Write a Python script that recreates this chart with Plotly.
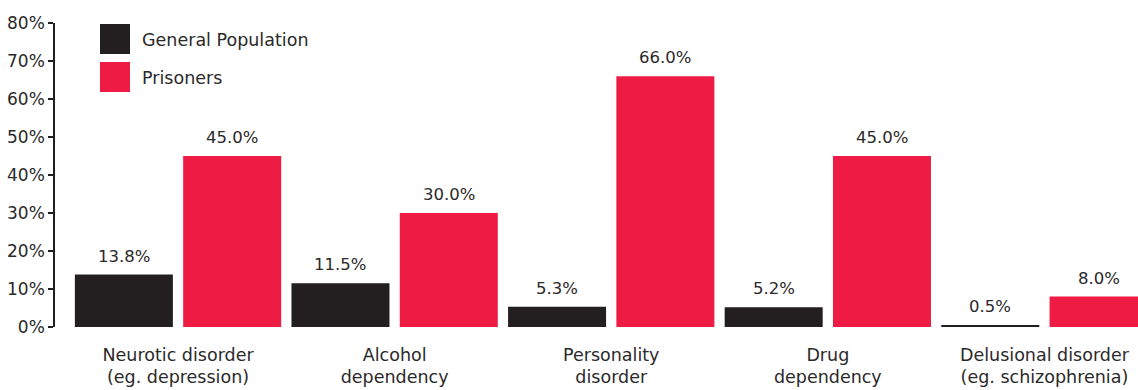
import plotly.graph_objects as go

categories = ["Neurotic disorder<br>(eg. depression)", "Alcohol<br>dependency", "Personality<br>disorder",
              "Drug<br>dependency", "Delusional disorder<br>(eg. schizophrenia)"]
general_population = [13.8, 11.5, 5.3, 5.2, 0.5]
prisoners = [45.0, 30.0, 66.0, 45.0, 8.0]
series_names = ["General Population", "Prisoners"]
y_tick_values = [0, 10, 20, 30, 40, 50, 60, 70, 80]
y_tick_labels = [f"{v}%" for v in y_tick_values]

BLACK = "#231f20"
RED = "#ee1b45"
TEXT = "#2b2929"
FONT = "DejaVu Sans"

fig = go.Figure()
fig.add_trace(go.Bar(x=categories, y=general_population, name=series_names[0],
                     marker=dict(color=BLACK, line=dict(width=0)), showlegend=False))
fig.add_trace(go.Bar(x=categories, y=prisoners, name=series_names[1],
                     marker=dict(color=RED, line=dict(width=0)), showlegend=False))

annotations = []
for i in range(len(categories)):
    for off, vals in ((-0.25, general_population), (0.25, prisoners)):
        annotations.append(dict(x=i + off, y=vals[i], xref="x", yref="y", text=f"{vals[i]:.1f}%",
                                showarrow=False, yanchor="bottom", yshift=7,
                                font=dict(family=FONT, size=16.5, color=TEXT)))

# legend drawn as large swatches
legend_items = [(series_names[0], BLACK, 24), (series_names[1], RED, 62)]
shapes = []
for name, color, top in legend_items:
    shapes.append(dict(type="rect", xref="paper", yref="paper",
                       x0=(100 - 55) / 1083, x1=(130 - 55) / 1083,
                       y0=1 - (top + 30 - 23) / 304, y1=1 - (top - 23) / 304,
                       fillcolor=color, line=dict(width=0)))
    annotations.append(dict(x=(143 - 55) / 1083, y=1 - (top + 15.5 - 23) / 304, xref="paper", yref="paper",
                            text=name, showarrow=False, xanchor="left", yanchor="middle",
                            xshift=-3, font=dict(family=FONT, size=17.5, color=TEXT)))

fig.update_layout(
    width=1138, height=390,
    margin=dict(l=55, r=0, t=23, b=63, pad=0),
    paper_bgcolor="white", plot_bgcolor="white",
    barmode="group", bargap=0, bargroupgap=0.095,
    font=dict(family=FONT, size=17, color=TEXT),
    annotations=annotations, shapes=shapes,
    xaxis=dict(type="category", range=[-0.568, 4.432], showline=False, showgrid=False,
               ticks="", tickfont=dict(family=FONT, size=17.5, color=TEXT), ticklabelstandoff=15),
    yaxis=dict(range=[0, 80], tickvals=y_tick_values, ticktext=y_tick_labels,
               showline=True, linecolor=BLACK, linewidth=1.5, ticks="outside", ticklen=5,
               tickcolor=BLACK, tickwidth=1.5, showgrid=False, zeroline=False,
               tickfont=dict(family=FONT, size=17, color=TEXT), ticklabelstandoff=0),
)

fig.write_html("out.html")
